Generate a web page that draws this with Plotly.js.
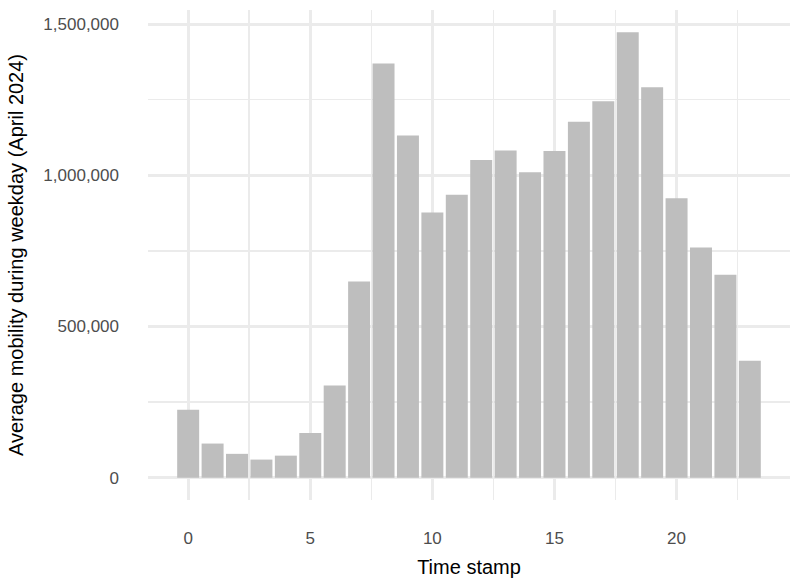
<!DOCTYPE html>
<html>
<head>
<meta charset="utf-8">
<script src="https://cdn.plot.ly/plotly-3.0.1.min.js"></script>
<style>html,body{margin:0;padding:0;background:#fff;}#chart{width:800px;height:585px;}</style>
</head>
<body>
<div id="chart"></div>
<script>
const hours = [0,1,2,3,4,5,6,7,8,9,10,11,12,13,14,15,16,17,18,19,20,21,22,23];
const mobility = [225000,113000,79000,60000,73000,148000,305000,649000,1370000,1132000,877000,936000,1051000,1082000,1010000,1080000,1177000,1245000,1473000,1291000,924000,761000,671000,387000];
const yTickVals = [0,500000,1000000,1500000];
const yTickText = ["0","500,000","1,000,000","1,500,000"];
const xTickVals = [0,5,10,15,20];

const trace = {
  type: 'bar',
  x: hours,
  y: mobility,
  marker: {color: '#bebebe', line: {width: 0}},
  width: 0.9,
  hoverinfo: 'x+y'
};

const layout = {
  width: 800, height: 585,
  margin: {l: 148, r: 10, t: 10, b: 85},
  paper_bgcolor: '#ffffff',
  plot_bgcolor: '#ffffff',
  showlegend: false,
  font: {family: 'Liberation Sans, Arial, sans-serif'},
  xaxis: {
    range: [-1.645, 24.645],
    tickmode: 'array', tickvals: xTickVals,
    ticks: '', showline: false, zeroline: false,
    showgrid: true, gridcolor: '#ebebeb', gridwidth: 3,
    minor: {showgrid: true, tickmode: 'array', tickvals: [-2.5,2.5,7.5,12.5,17.5,22.5], gridcolor: '#ebebeb', gridwidth: 1.5},
    tickfont: {size: 17, color: '#4d4d4d'},
    ticklabelstandoff: 26,
    title: {text: 'Time stamp', font: {size: 20, color: '#000000'}, standoff: 12}
  },
  yaxis: {
    range: [-73650, 1546650],
    tickmode: 'array', tickvals: yTickVals, ticktext: yTickText,
    ticks: '', showline: false, zeroline: false,
    showgrid: true, gridcolor: '#ebebeb', gridwidth: 3,
    minor: {showgrid: true, tickmode: 'array', tickvals: [250000,750000,1250000], gridcolor: '#ebebeb', gridwidth: 1.5},
    tickfont: {size: 17, color: '#4d4d4d'},
    ticklabelstandoff: 28,
    title: {text: 'Average mobility during weekday (April 2024)', font: {size: 20, color: '#000000'}, standoff: 14}
  }
};

Plotly.newPlot('chart', [trace], layout, {displayModeBar: false, staticPlot: true});
</script>
</body>
</html>
